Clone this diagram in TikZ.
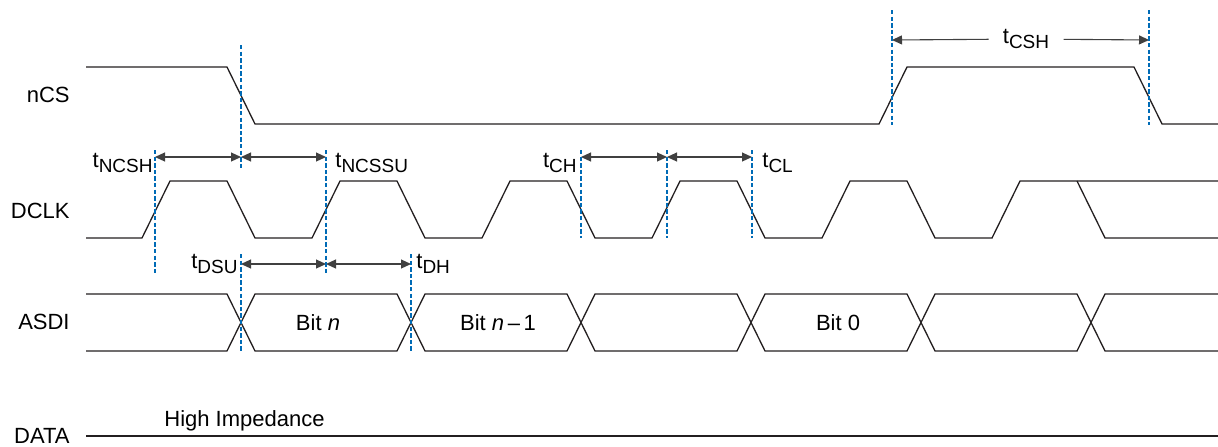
\documentclass[tikz,border=0pt]{standalone}
\usepackage{fontspec}
\setmainfont{Liberation Sans}
\usetikzlibrary{arrows.meta}

\definecolor{markblue}{RGB}{0,107,182}
\definecolor{sigline}{RGB}{35,31,32}
\newcommand{\tsub}[1]{t\raisebox{-2.5pt}{\fontsize{9.5}{9.5}\selectfont #1}}

\tikzset{
  wave/.style={draw=sigline, line width=0.65pt},
  marker/.style={draw=markblue, line width=1.35pt, dash pattern=on 2.2pt off 1.1pt},
  dim/.style={draw=black!75, line width=0.55pt, {Triangle[length=5pt,width=4.5pt]}-{Triangle[length=5pt,width=4.5pt]}},
  dimto/.style={draw=black!75, line width=0.55pt, -{Triangle[length=5pt,width=4.5pt]}},
  signame/.style={anchor=east, inner sep=0pt},
  tlabel/.style={inner sep=0pt},
}

\begin{document}
\begin{tikzpicture}[x=0.5pt, y=-0.5pt, font=\fontsize{11}{13}\selectfont]
      \useasboundingbox (0,0) rectangle (1218,446);

      % signal names
      \node[signame] (ncs)  at (70,95)  {nCS};
      \node[signame] (dclk) at (70,211) {DCLK};
      \node[signame] (asdi) at (70,322) {ASDI};
      \node[signame] (data) at (70,436) {DATA};

      % nCS
      \draw[wave] (86,67) -- (227,67) -- (255,124) -- (879,124) -- (907,67) -- (1134,67) -- (1162,124) -- (1218,124);

      % DCLK
      \draw[wave] (86,238) -- (142,238) -- (170,181) -- (227,181) -- (255,238) -- (312,238) -- (340,181) -- (397,181) -- (425,238)
        -- (482,238) -- (510,181) -- (567,181) -- (595,238) -- (652,238) -- (680,181) -- (737,181) -- (765,238)
        -- (822,238) -- (850,181) -- (907,181) -- (935,238) -- (992,238) -- (1020,181) -- (1218,181);
      \draw[wave] (1077,181) -- (1105,238) -- (1218,238);

      % ASDI
      \draw[wave] (86,294) -- (227,294) -- (255,351) -- (397,351) -- (425,294) -- (567,294) -- (595,351) -- (737,351) -- (765,294)
        -- (907,294) -- (935,351) -- (1077,351) -- (1105,294) -- (1218,294);
      \draw[wave] (86,351) -- (227,351) -- (255,294) -- (397,294) -- (425,351) -- (567,351) -- (595,294) -- (737,294) -- (765,351)
        -- (907,351) -- (935,294) -- (1077,294) -- (1105,351) -- (1218,351);
      \node (bitn) at (318,323) {Bit \textit{n}};
      \node (bitm) at (498,323) {Bit \textit{n}\,–\,1};
      \node (bitz) at (838,323) {Bit 0};

      % DATA
      \draw[wave] (86,436) -- (1218,436);
      \node[anchor=base west, inner sep=0pt] (hiz) at (164,426) {High Impedance};

      % arrow ends
      \coordinate (a1) at (155,157);
      \coordinate (a2) at (241,157);
      \coordinate (a3) at (326,157);
      \coordinate (b1) at (581,157);
      \coordinate (b2) at (667,157);
      \coordinate (b3) at (752,157);
      \coordinate (d1) at (241,264);
      \coordinate (d2) at (326,264);
      \coordinate (d3) at (411,264);
      \coordinate (c1) at (892,40);
      \coordinate (c2) at (1149,40);

      \draw[dim] (a1) -- (a2);
      \draw[dim] (a2) -- (a3);
      \draw[dim] (b1) -- (b2);
      \draw[dim] (b2) -- (b3);
      \draw[dim] (d1) -- (d2);
      \draw[dim] (d2) -- (d3);

      \node[fill=white, inner xsep=7pt, inner ysep=1pt] (tcsh) at (1026,39) {\tsub{CSH}};
      \draw[dimto] (tcsh) -- (c1);
      \draw[dimto] (tcsh) -- (c2);

      % timing labels
      \node[tlabel, anchor=base east] (tncsh)  at (153,167) {\tsub{NCSH}};
      \node[tlabel, anchor=base west] (tncssu) at (335,167) {\tsub{NCSSU}};
      \node[tlabel, anchor=base east] (tch)    at (577,167) {\tsub{CH}};
      \node[tlabel, anchor=base west] (tcl)    at (762,167) {\tsub{CL}};
      \node[tlabel, anchor=base east] (tdsu)   at (238,268) {\tsub{DSU}};
      \node[tlabel, anchor=base west] (tdh)    at (416,268) {\tsub{DH}};

      % markers
      \draw[marker] (155,150) -- (155,275);
      \draw[marker] (241,45) -- (241,168);
      \draw[marker] (326,150) -- (326,275);
      \draw[marker] (241,254) -- (241,352);
      \draw[marker] (411,254) -- (411,352);
      \draw[marker] (581,150) -- (581,238);
      \draw[marker] (667,150) -- (667,238);
      \draw[marker] (752,150) -- (752,238);
      \draw[marker] (892,10) -- (892,125);
      \draw[marker] (1149,10) -- (1149,125);
\end{tikzpicture}
\end{document}
